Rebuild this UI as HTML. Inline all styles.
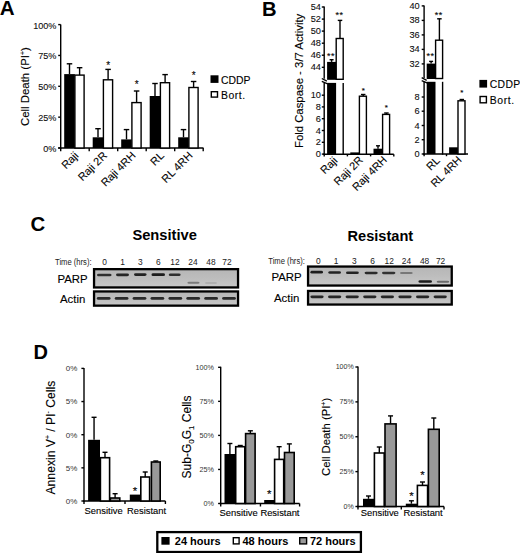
<!DOCTYPE html>
<html><head><meta charset="utf-8"><title>Figure</title>
<style>
html,body{margin:0;padding:0;background:#fff;width:520px;height:553px;overflow:hidden;}
svg{display:block;}
text{font-family:"Liberation Sans", sans-serif;stroke:#000;stroke-width:0.12px;} text.n{stroke-width:0;} text.m{stroke-width:0.1px;}
</style></head><body>
<svg width="520" height="553" viewBox="0 0 520 553">
<defs><filter id="blur" x="-20%" y="-100%" width="140%" height="300%"><feGaussianBlur stdDeviation="0.65"/></filter><linearGradient id="blotg" x1="0" y1="0" x2="0" y2="1"><stop offset="0" stop-color="#b6b6b6"/><stop offset="0.5" stop-color="#bdbdbd"/><stop offset="1" stop-color="#c8c8c8"/></linearGradient></defs>
<rect x="0" y="0" width="520" height="553" fill="#fff"/>
<text class="n" x="-0.20" y="14.70" font-size="20.6" text-anchor="start" font-weight="bold" fill="#000" >A</text>
<line x1="60.70" y1="24.60" x2="60.70" y2="148.70" stroke="#000" stroke-width="1.4"/>
<line x1="58.20" y1="24.60" x2="60.70" y2="24.60" stroke="#000" stroke-width="1.4"/>
<text class="m" x="56.40" y="28.60" font-size="9.1" text-anchor="end" font-weight="normal" fill="#111" >100%</text>
<line x1="58.20" y1="55.45" x2="60.70" y2="55.45" stroke="#000" stroke-width="1.4"/>
<text class="m" x="56.40" y="59.45" font-size="9.1" text-anchor="end" font-weight="normal" fill="#111" >75%</text>
<line x1="58.20" y1="86.30" x2="60.70" y2="86.30" stroke="#000" stroke-width="1.4"/>
<text class="m" x="56.40" y="90.30" font-size="9.1" text-anchor="end" font-weight="normal" fill="#111" >50%</text>
<line x1="58.20" y1="117.15" x2="60.70" y2="117.15" stroke="#000" stroke-width="1.4"/>
<text class="m" x="56.40" y="121.15" font-size="9.1" text-anchor="end" font-weight="normal" fill="#111" >25%</text>
<line x1="58.20" y1="148.00" x2="60.70" y2="148.00" stroke="#000" stroke-width="1.4"/>
<text class="m" x="56.40" y="152.00" font-size="9.1" text-anchor="end" font-weight="normal" fill="#111" >0%</text>
<line x1="58.20" y1="148.00" x2="203.50" y2="148.00" stroke="#000" stroke-width="1.4"/>
<line x1="60.70" y1="148.00" x2="60.70" y2="151.20" stroke="#000" stroke-width="1.4"/>
<line x1="89.20" y1="148.00" x2="89.20" y2="151.20" stroke="#000" stroke-width="1.4"/>
<line x1="117.70" y1="148.00" x2="117.70" y2="151.20" stroke="#000" stroke-width="1.4"/>
<line x1="146.20" y1="148.00" x2="146.20" y2="151.20" stroke="#000" stroke-width="1.4"/>
<line x1="174.70" y1="148.00" x2="174.70" y2="151.20" stroke="#000" stroke-width="1.4"/>
<line x1="203.20" y1="148.00" x2="203.20" y2="151.20" stroke="#000" stroke-width="1.4"/>
<line x1="69.50" y1="74.10" x2="69.50" y2="63.80" stroke="#000" stroke-width="1.4"/>
<line x1="66.75" y1="63.80" x2="72.25" y2="63.80" stroke="#000" stroke-width="1.4"/>
<line x1="79.60" y1="75.10" x2="79.60" y2="67.70" stroke="#000" stroke-width="1.4"/>
<line x1="76.85" y1="67.70" x2="82.35" y2="67.70" stroke="#000" stroke-width="1.4"/>
<rect x="64.20" y="74.10" width="10.60" height="73.90" fill="#000"/>
<rect x="74.90" y="75.10" width="9.20" height="72.90" fill="#fff" stroke="#000" stroke-width="1.4"/>
<line x1="98.00" y1="137.30" x2="98.00" y2="128.70" stroke="#000" stroke-width="1.4"/>
<line x1="95.25" y1="128.70" x2="100.75" y2="128.70" stroke="#000" stroke-width="1.4"/>
<line x1="108.10" y1="79.80" x2="108.10" y2="69.40" stroke="#000" stroke-width="1.4"/>
<line x1="105.35" y1="69.40" x2="110.85" y2="69.40" stroke="#000" stroke-width="1.4"/>
<rect x="92.70" y="137.30" width="10.60" height="10.70" fill="#000"/>
<rect x="103.40" y="79.80" width="9.20" height="68.20" fill="#fff" stroke="#000" stroke-width="1.4"/>
<text x="108.10" y="68.60" font-size="10" text-anchor="middle" font-weight="normal" fill="#000" >*</text>
<line x1="126.50" y1="139.40" x2="126.50" y2="129.60" stroke="#000" stroke-width="1.4"/>
<line x1="123.75" y1="129.60" x2="129.25" y2="129.60" stroke="#000" stroke-width="1.4"/>
<line x1="136.60" y1="102.60" x2="136.60" y2="91.00" stroke="#000" stroke-width="1.4"/>
<line x1="133.85" y1="91.00" x2="139.35" y2="91.00" stroke="#000" stroke-width="1.4"/>
<rect x="121.20" y="139.40" width="10.60" height="8.60" fill="#000"/>
<rect x="131.90" y="102.60" width="9.20" height="45.40" fill="#fff" stroke="#000" stroke-width="1.4"/>
<text x="136.60" y="88.00" font-size="10" text-anchor="middle" font-weight="normal" fill="#000" >*</text>
<line x1="155.00" y1="96.00" x2="155.00" y2="83.50" stroke="#000" stroke-width="1.4"/>
<line x1="152.25" y1="83.50" x2="157.75" y2="83.50" stroke="#000" stroke-width="1.4"/>
<line x1="165.10" y1="82.70" x2="165.10" y2="74.60" stroke="#000" stroke-width="1.4"/>
<line x1="162.35" y1="74.60" x2="167.85" y2="74.60" stroke="#000" stroke-width="1.4"/>
<rect x="149.70" y="96.00" width="10.60" height="52.00" fill="#000"/>
<rect x="160.40" y="82.70" width="9.20" height="65.30" fill="#fff" stroke="#000" stroke-width="1.4"/>
<line x1="183.50" y1="137.30" x2="183.50" y2="129.60" stroke="#000" stroke-width="1.4"/>
<line x1="180.75" y1="129.60" x2="186.25" y2="129.60" stroke="#000" stroke-width="1.4"/>
<line x1="193.60" y1="87.50" x2="193.60" y2="81.50" stroke="#000" stroke-width="1.4"/>
<line x1="190.85" y1="81.50" x2="196.35" y2="81.50" stroke="#000" stroke-width="1.4"/>
<rect x="178.20" y="137.30" width="10.60" height="10.70" fill="#000"/>
<rect x="188.90" y="87.50" width="9.20" height="60.50" fill="#fff" stroke="#000" stroke-width="1.4"/>
<text x="193.60" y="78.60" font-size="10" text-anchor="middle" font-weight="normal" fill="#000" >*</text>
<text transform="translate(79.20,156.30) rotate(-45)" x="0" y="0" font-size="10.9" text-anchor="end" fill="#000">Raji</text>
<text transform="translate(107.70,156.30) rotate(-45)" x="0" y="0" font-size="10.9" text-anchor="end" fill="#000">Raji 2R</text>
<text transform="translate(136.20,156.30) rotate(-45)" x="0" y="0" font-size="10.9" text-anchor="end" fill="#000">Raji 4RH</text>
<text transform="translate(164.70,156.30) rotate(-45)" x="0" y="0" font-size="10.9" text-anchor="end" fill="#000">RL</text>
<text transform="translate(193.20,156.30) rotate(-45)" x="0" y="0" font-size="10.9" text-anchor="end" fill="#000">RL 4RH</text>
<text transform="translate(28.80,86.60) rotate(-90)" x="0" y="0" font-size="11.4" text-anchor="middle" font-weight="normal" fill="#000">Cell Death (PI<tspan font-size="7" dy="-4">+</tspan><tspan dy="4">)</tspan></text>
<rect x="210.50" y="75.30" width="8.00" height="7.60" fill="#000"/>
<text x="221.00" y="83.50" font-size="10.4" text-anchor="start" font-weight="normal" fill="#000" >CDDP</text>
<rect x="211.30" y="91.70" width="6.20" height="5.40" fill="#fff" stroke="#000" stroke-width="1.4"/>
<text x="221.00" y="99.00" font-size="10.4" text-anchor="start" font-weight="normal" fill="#000" letter-spacing="0.55">Bort.</text>
<text class="n" x="262.00" y="16.30" font-size="20.2" text-anchor="start" font-weight="bold" fill="#000" >B</text>
<text transform="translate(302.90,80.90) rotate(-90)" x="0" y="0" font-size="11.35" text-anchor="middle" font-weight="normal" fill="#000">Fold Caspase - 3/7 Activity</text>
<line x1="324.20" y1="6.50" x2="324.20" y2="78.80" stroke="#000" stroke-width="1.4"/>
<line x1="324.20" y1="82.90" x2="324.20" y2="154.90" stroke="#000" stroke-width="1.4"/>
<line x1="321.80" y1="7.00" x2="324.20" y2="7.00" stroke="#000" stroke-width="1.4"/>
<text class="m" x="320.90" y="10.00" font-size="9.2" text-anchor="end" font-weight="normal" fill="#111" >54</text>
<line x1="321.80" y1="19.10" x2="324.20" y2="19.10" stroke="#000" stroke-width="1.4"/>
<text class="m" x="320.90" y="22.10" font-size="9.2" text-anchor="end" font-weight="normal" fill="#111" >52</text>
<line x1="321.80" y1="31.10" x2="324.20" y2="31.10" stroke="#000" stroke-width="1.4"/>
<text class="m" x="320.90" y="34.10" font-size="9.2" text-anchor="end" font-weight="normal" fill="#111" >50</text>
<line x1="321.80" y1="43.20" x2="324.20" y2="43.20" stroke="#000" stroke-width="1.4"/>
<text class="m" x="320.90" y="46.20" font-size="9.2" text-anchor="end" font-weight="normal" fill="#111" >48</text>
<line x1="321.80" y1="55.20" x2="324.20" y2="55.20" stroke="#000" stroke-width="1.4"/>
<text class="m" x="320.90" y="58.20" font-size="9.2" text-anchor="end" font-weight="normal" fill="#111" >46</text>
<line x1="321.80" y1="67.30" x2="324.20" y2="67.30" stroke="#000" stroke-width="1.4"/>
<text class="m" x="320.90" y="70.30" font-size="9.2" text-anchor="end" font-weight="normal" fill="#111" >44</text>
<line x1="321.80" y1="95.20" x2="324.20" y2="95.20" stroke="#000" stroke-width="1.4"/>
<text class="m" x="320.90" y="98.20" font-size="9.2" text-anchor="end" font-weight="normal" fill="#111" >10</text>
<line x1="321.80" y1="106.90" x2="324.20" y2="106.90" stroke="#000" stroke-width="1.4"/>
<text class="m" x="320.90" y="109.90" font-size="9.2" text-anchor="end" font-weight="normal" fill="#111" >8</text>
<line x1="321.80" y1="118.70" x2="324.20" y2="118.70" stroke="#000" stroke-width="1.4"/>
<text class="m" x="320.90" y="121.70" font-size="9.2" text-anchor="end" font-weight="normal" fill="#111" >6</text>
<line x1="321.80" y1="130.50" x2="324.20" y2="130.50" stroke="#000" stroke-width="1.4"/>
<text class="m" x="320.90" y="133.50" font-size="9.2" text-anchor="end" font-weight="normal" fill="#111" >4</text>
<line x1="321.80" y1="142.30" x2="324.20" y2="142.30" stroke="#000" stroke-width="1.4"/>
<text class="m" x="320.90" y="145.30" font-size="9.2" text-anchor="end" font-weight="normal" fill="#111" >2</text>
<line x1="321.80" y1="154.10" x2="324.20" y2="154.10" stroke="#000" stroke-width="1.4"/>
<text class="m" x="320.90" y="157.10" font-size="9.2" text-anchor="end" font-weight="normal" fill="#111" >0</text>
<line x1="321.80" y1="78.50" x2="326.80" y2="81.10" stroke="#000" stroke-width="1.3"/>
<line x1="321.80" y1="81.40" x2="327.60" y2="83.90" stroke="#000" stroke-width="1.3"/>
<line x1="323.20" y1="154.20" x2="393.80" y2="154.20" stroke="#000" stroke-width="1.4"/>
<line x1="324.20" y1="154.20" x2="324.20" y2="156.40" stroke="#000" stroke-width="1.4"/>
<line x1="347.40" y1="154.20" x2="347.40" y2="156.40" stroke="#000" stroke-width="1.4"/>
<line x1="370.60" y1="154.20" x2="370.60" y2="156.40" stroke="#000" stroke-width="1.4"/>
<line x1="393.80" y1="154.20" x2="393.80" y2="156.40" stroke="#000" stroke-width="1.4"/>
<line x1="331.60" y1="61.90" x2="331.60" y2="59.70" stroke="#000" stroke-width="1.4"/>
<line x1="329.60" y1="59.70" x2="333.60" y2="59.70" stroke="#000" stroke-width="1.4"/>
<line x1="340.00" y1="38.50" x2="340.00" y2="20.40" stroke="#000" stroke-width="1.4"/>
<line x1="337.75" y1="20.40" x2="342.25" y2="20.40" stroke="#000" stroke-width="1.4"/>
<rect x="336.20" y="38.50" width="7.00" height="40.80" fill="#fff" stroke="#000" stroke-width="1.4"/>
<line x1="343.20" y1="82.90" x2="343.20" y2="154.90" stroke="#000" stroke-width="1.4"/>
<rect x="327.10" y="61.90" width="9.00" height="17.90" fill="#000"/>
<rect x="327.10" y="82.90" width="9.00" height="71.30" fill="#000"/>
<text x="331.05" y="58.73" font-size="9" text-anchor="middle" font-weight="normal" fill="#000" letter-spacing="0.5">**</text>
<text x="339.45" y="17.53" font-size="9" text-anchor="middle" font-weight="normal" fill="#000" letter-spacing="0.5">**</text>
<line x1="363.20" y1="96.20" x2="363.20" y2="94.50" stroke="#000" stroke-width="1.4"/>
<line x1="360.95" y1="94.50" x2="365.45" y2="94.50" stroke="#000" stroke-width="1.4"/>
<rect x="359.40" y="96.20" width="7.00" height="58.00" fill="#fff" stroke="#000" stroke-width="1.4"/>
<rect x="350.30" y="152.40" width="9.00" height="1.80" fill="#000"/>
<text x="363.20" y="92.76" font-size="8" text-anchor="middle" font-weight="normal" fill="#000" >*</text>
<line x1="378.00" y1="148.70" x2="378.00" y2="145.80" stroke="#000" stroke-width="1.4"/>
<line x1="376.00" y1="145.80" x2="380.00" y2="145.80" stroke="#000" stroke-width="1.4"/>
<line x1="386.40" y1="114.40" x2="386.40" y2="113.00" stroke="#000" stroke-width="1.4"/>
<line x1="384.15" y1="113.00" x2="388.65" y2="113.00" stroke="#000" stroke-width="1.4"/>
<rect x="382.60" y="114.40" width="7.00" height="39.80" fill="#fff" stroke="#000" stroke-width="1.4"/>
<rect x="373.50" y="148.70" width="9.00" height="5.50" fill="#000"/>
<text x="386.40" y="110.46" font-size="8" text-anchor="middle" font-weight="normal" fill="#000" >*</text>
<line x1="424.10" y1="5.40" x2="424.10" y2="78.00" stroke="#000" stroke-width="1.4"/>
<line x1="424.10" y1="81.80" x2="424.10" y2="154.70" stroke="#000" stroke-width="1.4"/>
<line x1="421.70" y1="5.90" x2="424.10" y2="5.90" stroke="#000" stroke-width="1.4"/>
<text class="m" x="419.70" y="8.90" font-size="9.2" text-anchor="end" font-weight="normal" fill="#111" >40</text>
<line x1="421.70" y1="20.40" x2="424.10" y2="20.40" stroke="#000" stroke-width="1.4"/>
<text class="m" x="419.70" y="23.40" font-size="9.2" text-anchor="end" font-weight="normal" fill="#111" >38</text>
<line x1="421.70" y1="34.90" x2="424.10" y2="34.90" stroke="#000" stroke-width="1.4"/>
<text class="m" x="419.70" y="37.90" font-size="9.2" text-anchor="end" font-weight="normal" fill="#111" >36</text>
<line x1="421.70" y1="49.40" x2="424.10" y2="49.40" stroke="#000" stroke-width="1.4"/>
<text class="m" x="419.70" y="52.40" font-size="9.2" text-anchor="end" font-weight="normal" fill="#111" >34</text>
<line x1="421.70" y1="63.90" x2="424.10" y2="63.90" stroke="#000" stroke-width="1.4"/>
<text class="m" x="419.70" y="66.90" font-size="9.2" text-anchor="end" font-weight="normal" fill="#111" >32</text>
<line x1="421.70" y1="97.00" x2="424.10" y2="97.00" stroke="#000" stroke-width="1.4"/>
<text class="m" x="419.70" y="100.00" font-size="9.2" text-anchor="end" font-weight="normal" fill="#111" >8</text>
<line x1="421.70" y1="111.20" x2="424.10" y2="111.20" stroke="#000" stroke-width="1.4"/>
<text class="m" x="419.70" y="114.20" font-size="9.2" text-anchor="end" font-weight="normal" fill="#111" >6</text>
<line x1="421.70" y1="125.50" x2="424.10" y2="125.50" stroke="#000" stroke-width="1.4"/>
<text class="m" x="419.70" y="128.50" font-size="9.2" text-anchor="end" font-weight="normal" fill="#111" >4</text>
<line x1="421.70" y1="139.70" x2="424.10" y2="139.70" stroke="#000" stroke-width="1.4"/>
<text class="m" x="419.70" y="142.70" font-size="9.2" text-anchor="end" font-weight="normal" fill="#111" >2</text>
<line x1="421.70" y1="154.00" x2="424.10" y2="154.00" stroke="#000" stroke-width="1.4"/>
<text class="m" x="419.70" y="157.00" font-size="9.2" text-anchor="end" font-weight="normal" fill="#111" >0</text>
<line x1="421.70" y1="77.70" x2="426.70" y2="80.30" stroke="#000" stroke-width="1.3"/>
<line x1="421.70" y1="80.60" x2="427.50" y2="83.10" stroke="#000" stroke-width="1.3"/>
<line x1="423.10" y1="154.00" x2="468.00" y2="154.00" stroke="#000" stroke-width="1.4"/>
<line x1="424.10" y1="154.00" x2="424.10" y2="156.20" stroke="#000" stroke-width="1.4"/>
<line x1="446.50" y1="154.00" x2="446.50" y2="156.20" stroke="#000" stroke-width="1.4"/>
<line x1="431.10" y1="63.60" x2="431.10" y2="61.40" stroke="#000" stroke-width="1.4"/>
<line x1="429.10" y1="61.40" x2="433.10" y2="61.40" stroke="#000" stroke-width="1.4"/>
<line x1="439.40" y1="40.20" x2="439.40" y2="18.80" stroke="#000" stroke-width="1.4"/>
<line x1="437.15" y1="18.80" x2="441.65" y2="18.80" stroke="#000" stroke-width="1.4"/>
<rect x="435.60" y="40.20" width="7.00" height="38.30" fill="#fff" stroke="#000" stroke-width="1.4"/>
<line x1="442.60" y1="81.80" x2="442.60" y2="154.70" stroke="#000" stroke-width="1.4"/>
<rect x="426.70" y="63.60" width="8.80" height="15.40" fill="#000"/>
<rect x="426.70" y="81.80" width="8.80" height="72.20" fill="#000"/>
<text x="430.55" y="59.13" font-size="9" text-anchor="middle" font-weight="normal" fill="#000" letter-spacing="0.5">**</text>
<text x="438.85" y="17.53" font-size="9" text-anchor="middle" font-weight="normal" fill="#000" letter-spacing="0.5">**</text>
<line x1="461.80" y1="100.80" x2="461.80" y2="99.50" stroke="#000" stroke-width="1.4"/>
<line x1="459.55" y1="99.50" x2="464.05" y2="99.50" stroke="#000" stroke-width="1.4"/>
<rect x="458.00" y="100.80" width="7.00" height="53.20" fill="#fff" stroke="#000" stroke-width="1.4"/>
<rect x="449.10" y="147.30" width="8.80" height="6.70" fill="#000"/>
<text x="461.80" y="95.06" font-size="8" text-anchor="middle" font-weight="normal" fill="#000" >*</text>
<text transform="translate(338.10,161.30) rotate(-45)" x="0" y="0" font-size="10.9" text-anchor="end" fill="#000">Raji</text>
<text transform="translate(363.60,160.80) rotate(-45)" x="0" y="0" font-size="10.9" text-anchor="end" fill="#000">Raji 2R</text>
<text transform="translate(387.60,160.60) rotate(-45)" x="0" y="0" font-size="10.9" text-anchor="end" fill="#000">Raji 4RH</text>
<text transform="translate(440.50,161.10) rotate(-45)" x="0" y="0" font-size="10.9" text-anchor="end" fill="#000">RL</text>
<text transform="translate(462.40,160.60) rotate(-45)" x="0" y="0" font-size="10.9" text-anchor="end" fill="#000">RL 4RH</text>
<rect x="479.40" y="79.90" width="7.70" height="7.70" fill="#000"/>
<text x="489.80" y="87.80" font-size="10.4" text-anchor="start" font-weight="normal" fill="#000" letter-spacing="0.3">CDDP</text>
<rect x="480.10" y="96.50" width="6.30" height="6.30" fill="#fff" stroke="#000" stroke-width="1.4"/>
<text x="489.80" y="103.80" font-size="10.4" text-anchor="start" font-weight="normal" fill="#000" letter-spacing="0.6">Bort.</text>
<text class="n" x="30.60" y="231.00" font-size="20.4" text-anchor="start" font-weight="bold" fill="#000" >C</text>
<text class="n" x="132.40" y="239.80" font-size="14.7" text-anchor="start" font-weight="bold" fill="#000" >Sensitive</text>
<text class="n" x="347.50" y="240.90" font-size="14.6" text-anchor="start" font-weight="bold" fill="#000" >Resistant</text>
<text class="n" x="55.00" y="265.20" font-size="8.4" text-anchor="start" font-weight="normal" fill="#222" textLength="36.6" lengthAdjust="spacingAndGlyphs">Time (hrs):</text>
<text class="n" x="104.70" y="265.20" font-size="8.4" text-anchor="middle" font-weight="normal" fill="#222" >0</text>
<text class="n" x="122.70" y="265.20" font-size="8.4" text-anchor="middle" font-weight="normal" fill="#222" >1</text>
<text class="n" x="140.40" y="265.20" font-size="8.4" text-anchor="middle" font-weight="normal" fill="#222" >3</text>
<text class="n" x="158.30" y="265.20" font-size="8.4" text-anchor="middle" font-weight="normal" fill="#222" >6</text>
<text class="n" x="175.00" y="265.20" font-size="8.4" text-anchor="middle" font-weight="normal" fill="#222" >12</text>
<text class="n" x="193.00" y="265.20" font-size="8.4" text-anchor="middle" font-weight="normal" fill="#222" >24</text>
<text class="n" x="211.00" y="265.20" font-size="8.4" text-anchor="middle" font-weight="normal" fill="#222" >48</text>
<text class="n" x="227.00" y="265.20" font-size="8.4" text-anchor="middle" font-weight="normal" fill="#222" >72</text>
<text x="57.40" y="282.70" font-size="11.4" text-anchor="start" font-weight="normal" fill="#000" >PARP</text>
<text x="60.00" y="302.70" font-size="11.4" text-anchor="start" font-weight="normal" fill="#000" >Actin</text>
<rect x="94.05" y="269.15" width="144.00" height="18.30" fill="url(#blotg)" stroke="#000" stroke-width="2.3"/>
<rect x="97.00" y="273.67" width="14.50" height="2.66" rx="1.6" fill="#2e2e2e" filter="url(#blur)"/>
<rect x="116.00" y="273.47" width="13.00" height="2.66" rx="1.6" fill="#262626" filter="url(#blur)"/>
<rect x="134.00" y="273.18" width="12.50" height="2.85" rx="1.6" fill="#222" filter="url(#blur)"/>
<rect x="151.50" y="273.27" width="13.50" height="2.85" rx="1.6" fill="#1a1a1a" filter="url(#blur)"/>
<rect x="168.80" y="273.46" width="11.80" height="2.47" rx="1.6" fill="#2e2e2e" filter="url(#blur)"/>
<rect x="187.40" y="281.85" width="12.10" height="1.90" rx="1.6" fill="#7a7a7a" filter="url(#blur)"/>
<rect x="205.00" y="282.24" width="12.00" height="1.52" rx="1.6" fill="#a8a8a8" filter="url(#blur)"/>
<rect x="94.05" y="291.45" width="144.00" height="14.20" fill="url(#blotg)" stroke="#000" stroke-width="2.3"/>
<rect x="96.80" y="297.07" width="13.80" height="2.66" rx="1.6" fill="#2a2a2a" filter="url(#blur)"/>
<rect x="114.70" y="297.07" width="13.80" height="2.66" rx="1.6" fill="#2a2a2a" filter="url(#blur)"/>
<rect x="132.60" y="297.07" width="13.80" height="2.66" rx="1.6" fill="#2a2a2a" filter="url(#blur)"/>
<rect x="150.50" y="297.07" width="13.80" height="2.66" rx="1.6" fill="#2a2a2a" filter="url(#blur)"/>
<rect x="168.40" y="297.07" width="13.80" height="2.66" rx="1.6" fill="#2a2a2a" filter="url(#blur)"/>
<rect x="186.30" y="297.07" width="13.80" height="2.66" rx="1.6" fill="#2a2a2a" filter="url(#blur)"/>
<rect x="204.20" y="297.07" width="13.80" height="2.66" rx="1.6" fill="#2a2a2a" filter="url(#blur)"/>
<rect x="222.10" y="297.07" width="13.80" height="2.66" rx="1.6" fill="#2a2a2a" filter="url(#blur)"/>
<text class="n" x="268.30" y="263.60" font-size="8.4" text-anchor="start" font-weight="normal" fill="#222" textLength="36.6" lengthAdjust="spacingAndGlyphs">Time (hrs):</text>
<text class="n" x="318.30" y="263.60" font-size="8.4" text-anchor="middle" font-weight="normal" fill="#222" >0</text>
<text class="n" x="336.20" y="263.60" font-size="8.4" text-anchor="middle" font-weight="normal" fill="#222" >1</text>
<text class="n" x="354.40" y="263.60" font-size="8.4" text-anchor="middle" font-weight="normal" fill="#222" >3</text>
<text class="n" x="372.70" y="263.60" font-size="8.4" text-anchor="middle" font-weight="normal" fill="#222" >6</text>
<text class="n" x="389.20" y="263.60" font-size="8.4" text-anchor="middle" font-weight="normal" fill="#222" >12</text>
<text class="n" x="406.50" y="263.60" font-size="8.4" text-anchor="middle" font-weight="normal" fill="#222" >24</text>
<text class="n" x="424.60" y="263.60" font-size="8.4" text-anchor="middle" font-weight="normal" fill="#222" >48</text>
<text class="n" x="440.60" y="263.60" font-size="8.4" text-anchor="middle" font-weight="normal" fill="#222" >72</text>
<text x="271.50" y="281.30" font-size="11.4" text-anchor="start" font-weight="normal" fill="#000" >PARP</text>
<text x="274.00" y="302.40" font-size="11.4" text-anchor="start" font-weight="normal" fill="#000" >Actin</text>
<rect x="308.05" y="266.55" width="143.70" height="19.00" fill="url(#blotg)" stroke="#000" stroke-width="2.3"/>
<rect x="310.40" y="270.87" width="12.60" height="2.66" rx="1.6" fill="#1e1e1e" filter="url(#blur)"/>
<rect x="328.30" y="271.37" width="12.70" height="2.47" rx="1.6" fill="#222" filter="url(#blur)"/>
<rect x="346.00" y="271.56" width="12.80" height="2.47" rx="1.6" fill="#222" filter="url(#blur)"/>
<rect x="364.60" y="271.86" width="13.10" height="2.28" rx="1.6" fill="#2a2a2a" filter="url(#blur)"/>
<rect x="382.00" y="271.86" width="13.40" height="2.28" rx="1.6" fill="#333" filter="url(#blur)"/>
<rect x="400.00" y="272.05" width="12.70" height="1.90" rx="1.6" fill="#777" filter="url(#blur)"/>
<rect x="418.50" y="280.17" width="13.50" height="2.66" rx="1.6" fill="#1e1e1e" filter="url(#blur)"/>
<rect x="436.70" y="280.85" width="12.50" height="1.90" rx="1.6" fill="#6a6a6a" filter="url(#blur)"/>
<rect x="308.05" y="290.95" width="143.70" height="13.60" fill="url(#blotg)" stroke="#000" stroke-width="2.3"/>
<rect x="310.40" y="295.47" width="13.20" height="2.66" rx="1.6" fill="#262626" filter="url(#blur)"/>
<rect x="328.00" y="295.47" width="13.20" height="2.66" rx="1.6" fill="#262626" filter="url(#blur)"/>
<rect x="345.60" y="295.47" width="13.20" height="2.66" rx="1.6" fill="#262626" filter="url(#blur)"/>
<rect x="363.20" y="295.47" width="13.20" height="2.66" rx="1.6" fill="#262626" filter="url(#blur)"/>
<rect x="380.80" y="295.47" width="13.20" height="2.66" rx="1.6" fill="#262626" filter="url(#blur)"/>
<rect x="398.40" y="295.47" width="13.20" height="2.66" rx="1.6" fill="#262626" filter="url(#blur)"/>
<rect x="416.00" y="295.47" width="13.20" height="2.66" rx="1.6" fill="#262626" filter="url(#blur)"/>
<rect x="433.60" y="295.47" width="13.20" height="2.66" rx="1.6" fill="#262626" filter="url(#blur)"/>
<text class="n" x="33.60" y="358.50" font-size="20.0" text-anchor="start" font-weight="bold" fill="#000" >D</text>
<line x1="84.00" y1="367.90" x2="84.00" y2="501.70" stroke="#000" stroke-width="1.4"/>
<line x1="81.40" y1="368.40" x2="84.00" y2="368.40" stroke="#000" stroke-width="1.4"/>
<text class="n" x="77.30" y="371.20" font-size="8.0" text-anchor="end" font-weight="normal" fill="#333" >0%</text>
<line x1="81.40" y1="401.55" x2="84.00" y2="401.55" stroke="#000" stroke-width="1.4"/>
<text class="n" x="77.30" y="404.35" font-size="8.0" text-anchor="end" font-weight="normal" fill="#333" >5%</text>
<line x1="81.40" y1="434.70" x2="84.00" y2="434.70" stroke="#000" stroke-width="1.4"/>
<text class="n" x="77.30" y="437.50" font-size="8.0" text-anchor="end" font-weight="normal" fill="#333" >0%</text>
<line x1="81.40" y1="467.85" x2="84.00" y2="467.85" stroke="#000" stroke-width="1.4"/>
<text class="n" x="77.30" y="470.65" font-size="8.0" text-anchor="end" font-weight="normal" fill="#333" >5%</text>
<line x1="81.40" y1="501.00" x2="84.00" y2="501.00" stroke="#000" stroke-width="1.4"/>
<text class="n" x="77.30" y="503.80" font-size="8.0" text-anchor="end" font-weight="normal" fill="#333" >0%</text>
<line x1="83.00" y1="501.00" x2="165.40" y2="501.00" stroke="#000" stroke-width="1.4"/>
<line x1="84.00" y1="501.00" x2="84.00" y2="504.00" stroke="#000" stroke-width="1.4"/>
<line x1="125.00" y1="501.00" x2="125.00" y2="504.00" stroke="#000" stroke-width="1.4"/>
<line x1="165.40" y1="501.00" x2="165.40" y2="504.00" stroke="#000" stroke-width="1.4"/>
<line x1="94.05" y1="439.80" x2="94.05" y2="417.30" stroke="#000" stroke-width="1.4"/>
<line x1="91.55" y1="417.30" x2="96.55" y2="417.30" stroke="#000" stroke-width="1.4"/>
<rect x="88.10" y="439.80" width="11.90" height="61.20" fill="#000"/>
<line x1="105.00" y1="457.70" x2="105.00" y2="452.30" stroke="#000" stroke-width="1.4"/>
<line x1="102.50" y1="452.30" x2="107.50" y2="452.30" stroke="#000" stroke-width="1.4"/>
<rect x="100.40" y="457.70" width="9.20" height="43.30" fill="#fff" stroke="#000" stroke-width="1.6"/>
<line x1="115.10" y1="498.00" x2="115.10" y2="493.70" stroke="#000" stroke-width="1.4"/>
<line x1="112.60" y1="493.70" x2="117.60" y2="493.70" stroke="#000" stroke-width="1.4"/>
<rect x="110.40" y="498.00" width="9.40" height="3.00" fill="#999" stroke="#000" stroke-width="1.6"/>
<rect x="129.80" y="494.60" width="10.20" height="6.40" fill="#000"/>
<text x="134.90" y="495.36" font-size="11.5" text-anchor="middle" font-weight="normal" fill="#000" >*</text>
<line x1="145.20" y1="477.00" x2="145.20" y2="472.00" stroke="#000" stroke-width="1.4"/>
<line x1="142.70" y1="472.00" x2="147.70" y2="472.00" stroke="#000" stroke-width="1.4"/>
<rect x="140.80" y="477.00" width="8.80" height="24.00" fill="#fff" stroke="#000" stroke-width="1.6"/>
<line x1="155.80" y1="462.00" x2="155.80" y2="461.00" stroke="#000" stroke-width="1.4"/>
<line x1="153.30" y1="461.00" x2="158.30" y2="461.00" stroke="#000" stroke-width="1.4"/>
<rect x="151.40" y="462.00" width="8.80" height="39.00" fill="#999" stroke="#000" stroke-width="1.6"/>
<text x="84.60" y="513.60" font-size="9.4" text-anchor="start" font-weight="normal" fill="#000" >Sensitive</text>
<text x="127.00" y="513.60" font-size="9.4" text-anchor="start" font-weight="normal" fill="#000" >Resistant</text>
<text transform="translate(54.80,437.60) rotate(-90)" x="0" y="0" font-size="12.15" text-anchor="middle" font-weight="normal" fill="#000">Annexin V<tspan font-size="7" dy="-4.5">+</tspan><tspan dy="4.5"> / PI</tspan><tspan font-size="7" dy="-4.5">-</tspan><tspan dy="4.5"> Cells</tspan></text>
<line x1="220.70" y1="366.80" x2="220.70" y2="504.20" stroke="#000" stroke-width="1.4"/>
<line x1="218.10" y1="367.30" x2="220.70" y2="367.30" stroke="#000" stroke-width="1.4"/>
<text class="n" x="213.80" y="370.00" font-size="7.2" text-anchor="end" font-weight="normal" fill="#333" >100%</text>
<line x1="218.10" y1="401.35" x2="220.70" y2="401.35" stroke="#000" stroke-width="1.4"/>
<text class="n" x="213.80" y="404.05" font-size="7.2" text-anchor="end" font-weight="normal" fill="#333" >75%</text>
<line x1="218.10" y1="435.40" x2="220.70" y2="435.40" stroke="#000" stroke-width="1.4"/>
<text class="n" x="213.80" y="438.10" font-size="7.2" text-anchor="end" font-weight="normal" fill="#333" >50%</text>
<line x1="218.10" y1="469.45" x2="220.70" y2="469.45" stroke="#000" stroke-width="1.4"/>
<text class="n" x="213.80" y="472.15" font-size="7.2" text-anchor="end" font-weight="normal" fill="#333" >25%</text>
<line x1="218.10" y1="503.50" x2="220.70" y2="503.50" stroke="#000" stroke-width="1.4"/>
<text class="n" x="213.80" y="506.20" font-size="7.2" text-anchor="end" font-weight="normal" fill="#333" >0%</text>
<line x1="219.70" y1="503.50" x2="299.60" y2="503.50" stroke="#000" stroke-width="1.4"/>
<line x1="220.70" y1="503.50" x2="220.70" y2="506.50" stroke="#000" stroke-width="1.4"/>
<line x1="260.45" y1="503.50" x2="260.45" y2="506.50" stroke="#000" stroke-width="1.4"/>
<line x1="299.60" y1="503.50" x2="299.60" y2="506.50" stroke="#000" stroke-width="1.4"/>
<line x1="229.90" y1="454.00" x2="229.90" y2="443.50" stroke="#000" stroke-width="1.4"/>
<line x1="227.40" y1="443.50" x2="232.40" y2="443.50" stroke="#000" stroke-width="1.4"/>
<rect x="224.50" y="454.00" width="10.80" height="49.50" fill="#000"/>
<line x1="240.25" y1="446.70" x2="240.25" y2="445.50" stroke="#000" stroke-width="1.4"/>
<line x1="237.75" y1="445.50" x2="242.75" y2="445.50" stroke="#000" stroke-width="1.4"/>
<rect x="235.70" y="446.70" width="9.10" height="56.80" fill="#fff" stroke="#000" stroke-width="1.6"/>
<line x1="250.35" y1="433.60" x2="250.35" y2="430.80" stroke="#000" stroke-width="1.4"/>
<line x1="247.85" y1="430.80" x2="252.85" y2="430.80" stroke="#000" stroke-width="1.4"/>
<rect x="245.60" y="433.60" width="9.50" height="69.90" fill="#999" stroke="#000" stroke-width="1.6"/>
<rect x="264.20" y="500.00" width="10.00" height="3.50" fill="#000"/>
<text x="269.20" y="497.95" font-size="11.5" text-anchor="middle" font-weight="normal" fill="#000" >*</text>
<line x1="279.15" y1="459.40" x2="279.15" y2="446.70" stroke="#000" stroke-width="1.4"/>
<line x1="276.65" y1="446.70" x2="281.65" y2="446.70" stroke="#000" stroke-width="1.4"/>
<rect x="274.60" y="459.40" width="9.10" height="44.10" fill="#fff" stroke="#000" stroke-width="1.6"/>
<line x1="289.35" y1="452.50" x2="289.35" y2="443.90" stroke="#000" stroke-width="1.4"/>
<line x1="286.85" y1="443.90" x2="291.85" y2="443.90" stroke="#000" stroke-width="1.4"/>
<rect x="284.50" y="452.50" width="9.70" height="51.00" fill="#999" stroke="#000" stroke-width="1.6"/>
<text x="219.60" y="515.70" font-size="9.4" text-anchor="start" font-weight="normal" fill="#000" >Sensitive</text>
<text x="260.40" y="515.70" font-size="9.4" text-anchor="start" font-weight="normal" fill="#000" >Resistant</text>
<text transform="translate(191.00,437.00) rotate(-90)" x="0" y="0" font-size="12.0" text-anchor="middle" font-weight="normal" fill="#000">Sub-G<tspan font-size="8" dy="3">0</tspan><tspan dy="-3">G</tspan><tspan font-size="8" dy="3">1</tspan><tspan dy="-3"> Cells</tspan></text>
<line x1="358.00" y1="366.50" x2="358.00" y2="507.20" stroke="#000" stroke-width="1.4"/>
<line x1="355.40" y1="367.00" x2="358.00" y2="367.00" stroke="#000" stroke-width="1.4"/>
<text class="n" x="353.80" y="369.30" font-size="7.1" text-anchor="end" font-weight="normal" fill="#333" >100%</text>
<line x1="355.40" y1="401.88" x2="358.00" y2="401.88" stroke="#000" stroke-width="1.4"/>
<text class="n" x="353.80" y="404.18" font-size="7.1" text-anchor="end" font-weight="normal" fill="#333" >75%</text>
<line x1="355.40" y1="436.75" x2="358.00" y2="436.75" stroke="#000" stroke-width="1.4"/>
<text class="n" x="353.80" y="439.05" font-size="7.1" text-anchor="end" font-weight="normal" fill="#333" >50%</text>
<line x1="355.40" y1="471.62" x2="358.00" y2="471.62" stroke="#000" stroke-width="1.4"/>
<text class="n" x="353.80" y="473.93" font-size="7.1" text-anchor="end" font-weight="normal" fill="#333" >25%</text>
<line x1="355.40" y1="506.50" x2="358.00" y2="506.50" stroke="#000" stroke-width="1.4"/>
<text class="n" x="353.80" y="508.80" font-size="7.1" text-anchor="end" font-weight="normal" fill="#333" >0%</text>
<line x1="357.00" y1="506.50" x2="444.00" y2="506.50" stroke="#000" stroke-width="1.4"/>
<line x1="358.00" y1="506.50" x2="358.00" y2="509.50" stroke="#000" stroke-width="1.4"/>
<line x1="401.30" y1="506.50" x2="401.30" y2="509.50" stroke="#000" stroke-width="1.4"/>
<line x1="444.00" y1="506.50" x2="444.00" y2="509.50" stroke="#000" stroke-width="1.4"/>
<line x1="368.50" y1="498.80" x2="368.50" y2="496.00" stroke="#000" stroke-width="1.4"/>
<line x1="366.00" y1="496.00" x2="371.00" y2="496.00" stroke="#000" stroke-width="1.4"/>
<rect x="363.00" y="498.80" width="11.00" height="7.70" fill="#000"/>
<line x1="379.30" y1="453.00" x2="379.30" y2="447.00" stroke="#000" stroke-width="1.4"/>
<line x1="376.80" y1="447.00" x2="381.80" y2="447.00" stroke="#000" stroke-width="1.4"/>
<rect x="374.40" y="453.00" width="9.80" height="53.50" fill="#fff" stroke="#000" stroke-width="1.6"/>
<line x1="390.55" y1="423.90" x2="390.55" y2="415.90" stroke="#000" stroke-width="1.4"/>
<line x1="388.05" y1="415.90" x2="393.05" y2="415.90" stroke="#000" stroke-width="1.4"/>
<rect x="385.00" y="423.90" width="11.10" height="82.60" fill="#999" stroke="#000" stroke-width="1.6"/>
<line x1="411.40" y1="503.70" x2="411.40" y2="500.80" stroke="#000" stroke-width="1.4"/>
<line x1="408.90" y1="500.80" x2="413.90" y2="500.80" stroke="#000" stroke-width="1.4"/>
<rect x="405.80" y="503.70" width="11.20" height="2.80" fill="#000"/>
<text x="411.40" y="499.56" font-size="11.5" text-anchor="middle" font-weight="normal" fill="#000" >*</text>
<line x1="422.50" y1="485.40" x2="422.50" y2="482.00" stroke="#000" stroke-width="1.4"/>
<line x1="420.00" y1="482.00" x2="425.00" y2="482.00" stroke="#000" stroke-width="1.4"/>
<rect x="417.40" y="485.40" width="10.20" height="21.10" fill="#fff" stroke="#000" stroke-width="1.6"/>
<text x="422.50" y="479.45" font-size="11.5" text-anchor="middle" font-weight="normal" fill="#000" >*</text>
<line x1="433.80" y1="429.30" x2="433.80" y2="418.00" stroke="#000" stroke-width="1.4"/>
<line x1="431.30" y1="418.00" x2="436.30" y2="418.00" stroke="#000" stroke-width="1.4"/>
<rect x="428.40" y="429.30" width="10.80" height="77.20" fill="#999" stroke="#000" stroke-width="1.6"/>
<text x="360.80" y="516.40" font-size="9.4" text-anchor="start" font-weight="normal" fill="#000" >Sensitive</text>
<text x="403.60" y="516.40" font-size="9.4" text-anchor="start" font-weight="normal" fill="#000" >Resistant</text>
<text transform="translate(330.10,436.90) rotate(-90)" x="0" y="0" font-size="11.3" text-anchor="middle" font-weight="normal" fill="#000">Cell Death (PI<tspan font-size="7" dy="-4">+</tspan><tspan dy="4">)</tspan></text>
<rect x="157.3" y="532.1" width="203.6" height="19.9" fill="#fff" stroke="#000" stroke-width="2.3"/>
<rect x="161.40" y="537.00" width="8.20" height="7.70" fill="#000"/>
<text class="n" x="174.80" y="544.60" font-size="11.0" text-anchor="start" font-weight="bold" fill="#000" >24 hours</text>
<rect x="233.30" y="537.70" width="5.80" height="6.20" fill="#fff" stroke="#000" stroke-width="1.4"/>
<text class="n" x="242.50" y="544.60" font-size="11.0" text-anchor="start" font-weight="bold" fill="#000" >48 hours</text>
<rect x="299.70" y="537.70" width="6.90" height="6.20" fill="#999" stroke="#000" stroke-width="1.4"/>
<text class="n" x="309.90" y="544.60" font-size="11.0" text-anchor="start" font-weight="bold" fill="#000" >72 hours</text>
</svg>
</body></html>
